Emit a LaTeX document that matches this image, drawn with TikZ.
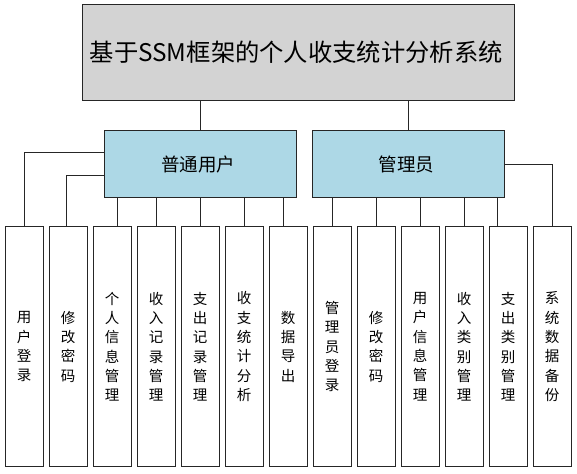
\documentclass[tikz,border=0pt]{standalone}
\usepackage{fontspec}
\newfontfamily\cjk{Noto Sans CJK SC}
\usetikzlibrary{positioning}

\begin{document}
\begin{tikzpicture}[x=1pt, y=-1pt,
        box/.style={draw=black!85, line width=1pt, inner sep=0pt, align=center},
        topbox/.style={box, fill={rgb,255:red,211;green,211;blue,211}, minimum width=432pt, minimum height=96pt, font=\cjk\fontsize{24.3}{28}\selectfont},
        rolebox/.style={box, fill={rgb,255:red,173;green,216;blue,230}, minimum width=192pt, minimum height=67pt, font=\cjk\fontsize{18.5}{22}\selectfont},
        funcbox/.style={box, fill=white, minimum width=38pt, minimum height=240pt, font=\cjk\fontsize{14.5}{19.3}\selectfont},
        link/.style={draw=black!85, line width=0.8pt}]
        \useasboundingbox (0,0) rectangle (577,473);
        \node[topbox] (SYSTEM) at (298.9,52.4) {
            基于SSM框架的个人收支统计分析系统
        };
        \node[rolebox] (USER) at (200.3,164.2) {
            普通用户
        };
        \node[rolebox] (ADMIN) at (408.5,164.2) {
            管理员
        };
        \node[funcbox] (ULOGIN) at (24,346.7) {
            用\\户\\登\\录
        };
        \node[funcbox] (UPWD) at (68,346.7) {
            修\\改\\密\\码
        };
        \node[funcbox] (UINFO) at (112,346.7) {
            个\\人\\信\\息\\管\\理
        };
        \node[funcbox] (UINCOME) at (156,346.7) {
            收\\入\\记\\录\\管\\理
        };
        \node[funcbox] (UEXPEND) at (200,346.7) {
            支\\出\\记\\录\\管\\理
        };
        \node[funcbox] (USTAT) at (244,346.7) {
            收\\支\\统\\计\\分\\析
        };
        \node[funcbox] (UEXPORT) at (288,346.7) {
            数\\据\\导\\出
        };
        \node[funcbox] (ALOGIN) at (332,346.7) {
            管\\理\\员\\登\\录
        };
        \node[funcbox] (APWD) at (376,346.7) {
            修\\改\\密\\码
        };
        \node[funcbox] (AUSER) at (420,346.7) {
            用\\户\\信\\息\\管\\理
        };
        \node[funcbox] (AINCAT) at (464,346.7) {
            收\\入\\类\\别\\管\\理
        };
        \node[funcbox] (AEXCAT) at (508,346.7) {
            支\\出\\类\\别\\管\\理
        };
        \node[funcbox] (ABACKUP) at (552,346.7) {
            系\\统\\数\\据\\备\\份
        };
        \draw[link] (USER.north) -- (USER.north |- SYSTEM.south);
        \draw[link] (ADMIN.north) -- (ADMIN.north |- SYSTEM.south);
        \draw[link] ([yshift=12pt]USER.west) -| (ULOGIN.north);
        \draw[link] ([yshift=-11pt]USER.west) -| ([xshift=-2pt]UPWD.north);
        \draw[link] ([xshift=5.7pt]UINFO.north) -- ([xshift=5.7pt]UINFO.north |- USER.south);
        \draw[link] (UINCOME.north) -- (UINCOME.north |- USER.south);
        \draw[link] (UEXPEND.north) -- (UEXPEND.north |- USER.south);
        \draw[link] (USTAT.north) -- (USTAT.north |- USER.south);
        \draw[link] ([xshift=-4.7pt]UEXPORT.north) -- ([xshift=-4.7pt]UEXPORT.north |- USER.south);
        \draw[link] (ALOGIN.north) -- (ALOGIN.north |- ADMIN.south);
        \draw[link] (APWD.north) -- (APWD.north |- ADMIN.south);
        \draw[link] (AUSER.north) -- (AUSER.north |- ADMIN.south);
        \draw[link] (AINCAT.north) -- (AINCAT.north |- ADMIN.south);
        \draw[link] ([xshift=-11pt]AEXCAT.north) -- ([xshift=-11pt]AEXCAT.north |- ADMIN.south);
        \draw[link] (ADMIN.east) -| (ABACKUP.north);
\end{tikzpicture}
\end{document}
